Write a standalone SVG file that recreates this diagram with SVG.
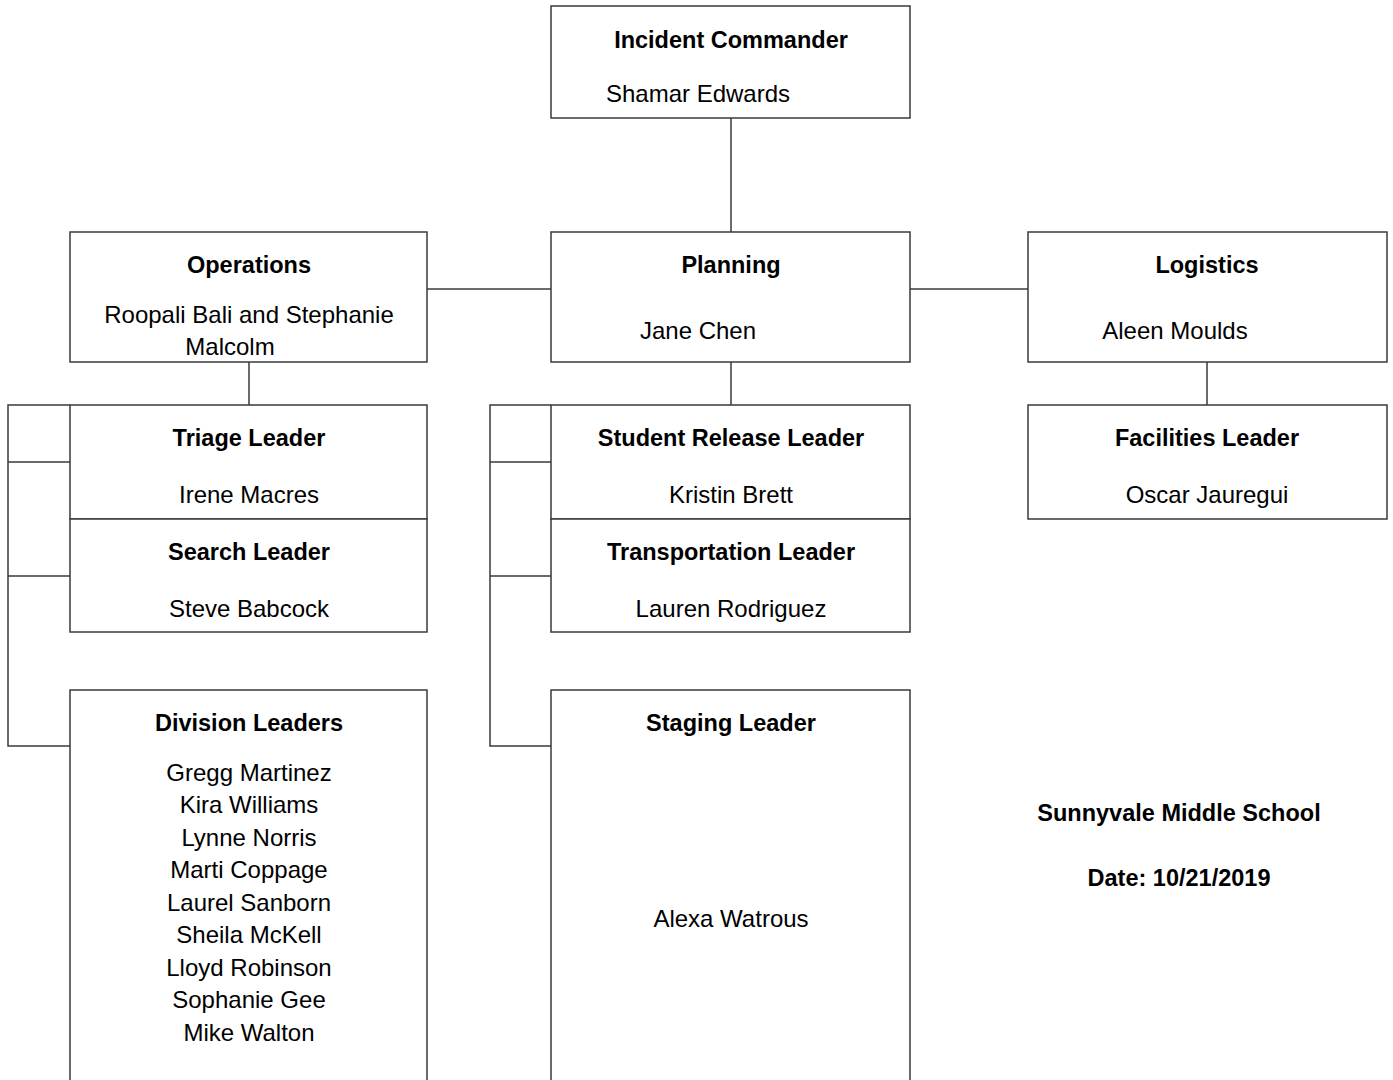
<svg xmlns="http://www.w3.org/2000/svg" width="1393" height="1080" viewBox="0 0 1393 1080">
<style>
.box{fill:#fff;stroke:#3a3a3a;stroke-width:1.5}
.ln{fill:none;stroke:#3a3a3a;stroke-width:1.5}
.t{font-family:"Liberation Sans",Arial,sans-serif;font-size:23.5px;font-weight:bold;fill:#000;text-anchor:middle}
.n{font-family:"Liberation Sans",Arial,sans-serif;font-size:24px;fill:#000;text-anchor:middle}
</style>
<rect width="1393" height="1080" fill="#fff"/>
<g id="connectors">
<line class="ln" x1="731" y1="118" x2="731" y2="232"/>
<line class="ln" x1="427" y1="289" x2="551" y2="289"/>
<line class="ln" x1="910" y1="289" x2="1028" y2="289"/>
<line class="ln" x1="249" y1="362" x2="249" y2="405"/>
<line class="ln" x1="731" y1="362" x2="731" y2="405"/>
<line class="ln" x1="1207" y1="362" x2="1207" y2="405"/>
<path class="ln" d="M70 405H8V746H70M8 462H70M8 576H70"/>
<path class="ln" d="M551 405H490V746H551M490 462H551M490 576H551"/>
</g>
<g id="incident-commander">
<rect class="box" x="551" y="6" width="359" height="112"/>
<text class="t" x="731" y="48">Incident Commander</text>
<text class="n" x="698" y="102">Shamar Edwards</text>
</g>
<g id="operations">
<rect class="box" x="70" y="232" width="357" height="130"/>
<text class="t" x="249" y="273">Operations</text>
<text class="n" x="249" y="323">Roopali Bali and Stephanie</text>
<text class="n" x="230" y="355">Malcolm</text>
</g>
<g id="planning">
<rect class="box" x="551" y="232" width="359" height="130"/>
<text class="t" x="731" y="273">Planning</text>
<text class="n" x="698" y="339">Jane Chen</text>
</g>
<g id="logistics">
<rect class="box" x="1028" y="232" width="359" height="130"/>
<text class="t" x="1207" y="273">Logistics</text>
<text class="n" x="1175" y="339">Aleen Moulds</text>
</g>
<g id="triage-leader">
<rect class="box" x="70" y="405" width="357" height="114"/>
<text class="t" x="249" y="446">Triage Leader</text>
<text class="n" x="249" y="503">Irene Macres</text>
</g>
<g id="search-leader">
<rect class="box" x="70" y="519" width="357" height="113"/>
<text class="t" x="249" y="560">Search Leader</text>
<text class="n" x="249" y="617">Steve Babcock</text>
</g>
<g id="division-leaders">
<rect class="box" x="70" y="690" width="357" height="400"/>
<text class="t" x="249" y="731">Division Leaders</text>
<text class="n" x="249" y="781">Gregg Martinez</text>
<text class="n" x="249" y="813">Kira Williams</text>
<text class="n" x="249" y="846">Lynne Norris</text>
<text class="n" x="249" y="878">Marti Coppage</text>
<text class="n" x="249" y="911">Laurel Sanborn</text>
<text class="n" x="249" y="943">Sheila McKell</text>
<text class="n" x="249" y="976">Lloyd Robinson</text>
<text class="n" x="249" y="1008">Sophanie Gee</text>
<text class="n" x="249" y="1041">Mike Walton</text>
</g>
<g id="student-release-leader">
<rect class="box" x="551" y="405" width="359" height="114"/>
<text class="t" x="731" y="446">Student Release Leader</text>
<text class="n" x="731" y="503">Kristin Brett</text>
</g>
<g id="transportation-leader">
<rect class="box" x="551" y="519" width="359" height="113"/>
<text class="t" x="731" y="560">Transportation Leader</text>
<text class="n" x="731" y="617">Lauren Rodriguez</text>
</g>
<g id="staging-leader">
<rect class="box" x="551" y="690" width="359" height="400"/>
<text class="t" x="731" y="731">Staging Leader</text>
<text class="n" x="731" y="927">Alexa Watrous</text>
</g>
<g id="facilities-leader">
<rect class="box" x="1028" y="405" width="359" height="114"/>
<text class="t" x="1207" y="446">Facilities Leader</text>
<text class="n" x="1207" y="503">Oscar Jauregui</text>
</g>
<g id="info">
<text class="t" x="1179" y="821">Sunnyvale Middle School</text>
<text class="t" x="1179" y="886">Date: 10/21/2019</text>
</g>
</svg>
